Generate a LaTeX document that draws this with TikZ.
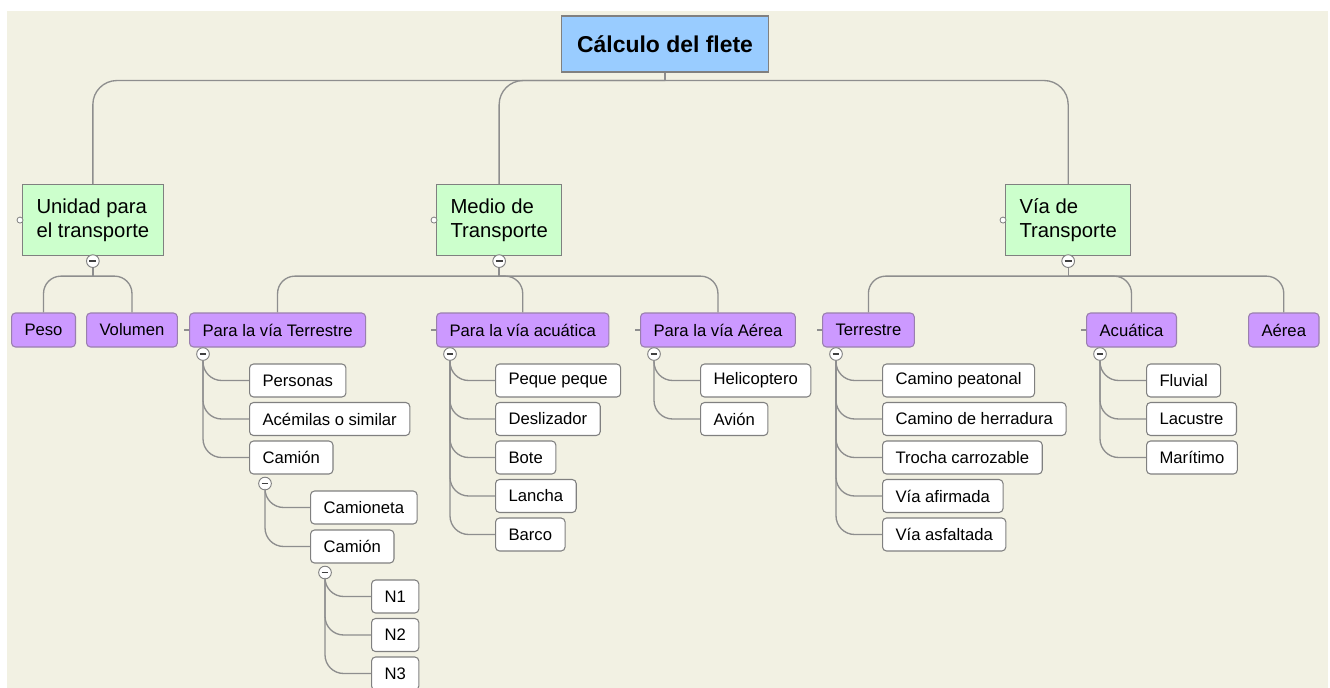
\documentclass[tikz,border=0pt]{standalone}
\usepackage{fontspec}
\setmainfont{Liberation Sans}
\usetikzlibrary{calc}

\definecolor{cream}{HTML}{F2F1E3}
\definecolor{rootblue}{HTML}{99CCFF}
\definecolor{topicgreen}{HTML}{CCFFCC}
\definecolor{subpurple}{HTML}{CC99FF}
\definecolor{subedge}{HTML}{9A7FAE}
\definecolor{edgegray}{HTML}{8E8E8E}
\definecolor{boxgray}{HTML}{808080}
\definecolor{markgray}{HTML}{404040}

\begin{document}
\begin{tikzpicture}[x=0.75pt, y=-0.75pt,
    rootbox/.style={draw=boxgray, fill=rootblue, line width=0.8pt, minimum height=42pt,
        inner xsep=11.6pt, font=\fontsize{17.2}{20}\selectfont\bfseries},
    topicbox/.style={draw=boxgray, fill=topicgreen, line width=0.8pt, minimum height=53.3pt,
        inner xsep=10.5pt, align=left, anchor=north west, font=\fontsize{15.2}{17.6}\selectfont},
    subbox/.style={draw=subedge, fill=subpurple, line width=0.8pt, rounded corners=3pt,
        minimum height=25.5pt, inner xsep=9.75pt, anchor=west, font=\fontsize{12.5}{15}\selectfont},
    leafbox/.style={draw=boxgray, fill=white, line width=0.8pt, rounded corners=3pt,
        minimum height=24.75pt, inner xsep=9.75pt, anchor=west, font=\fontsize{12.5}{15}\selectfont},
    conn/.style={draw=edgegray, line width=1pt},
    foldmark/.style={circle, draw=boxgray, fill=white, line width=0.7pt, minimum size=9.5pt, inner sep=0pt,
        path picture={\draw[markgray, line width=1.3pt]
            ([xshift=-2.6pt]path picture bounding box.center) -- ([xshift=2.6pt]path picture bounding box.center);}},
    knob/.style={circle, draw=boxgray, fill=white, line width=0.6pt, minimum size=4.5pt, inner sep=0pt}
]
% Canvas
\useasboundingbox (0,0) rectangle (1330,688);
\fill[white] (0,0) rectangle (1330,688);
\fill[cream] (7,11) rectangle (1328,688);

% Root
\node[rootbox] (flete) at (665,44) {Cálculo del flete};

% Main topics
\node[topicbox] (unidad) at (22,184) {Unidad para\\el transporte};
\node[topicbox] (medio) at (436,184) {Medio de\\Transporte};
\node[topicbox] (via) at (1005,184) {Vía de\\Transporte};

\coordinate (bus0) at ($(flete.south)+(0,8)$);
\draw[conn] (flete.south) -- (bus0);
\foreach \t in {unidad, medio, via} {
    \draw[conn, rounded corners=18pt] (bus0) -| (\t.north);
    \node[knob] (k\t) at ($(\t.west)+(-2,0)$) {};
    \node[foldmark] (f\t) at ($(\t.south)+(0,5)$) {};
    \coordinate (b\t) at ($(\t.south)+(0,20)$);
    \draw[conn] (f\t.south) -- (b\t);
}

% Subtopics
\node[subbox] (peso) at (11,330) {Peso};
\node[subbox] (volumen) at (86,330) {Volumen};
\node[subbox] (mterr) at (189,330) {Para la vía Terrestre};
\node[subbox] (macua) at (436,330) {Para la vía acuática};
\node[subbox] (maer) at (640,330) {Para la vía Aérea};
\node[subbox] (vterr) at (822,330) {Terrestre};
\node[subbox] (vacua) at (1086,330) {Acuática};
\node[subbox] (vaer) at (1248,330) {Aérea};

\foreach \p/\c in {unidad/peso, unidad/volumen, medio/mterr, medio/macua, medio/maer,
                   via/vterr, via/vacua, via/vaer}
    \draw[conn, rounded corners=13pt] (b\p) -| (\c.north);

% Folds and stubs of the subtopics
\foreach \s in {mterr, macua, maer, vterr, vacua} {
    \draw[conn] (\s.west) -- ++(-5,0);
    \node[foldmark] (f\s) at ($(\s.south west)+(14,6.5)$) {};
}

% Para la via Terrestre
\foreach \n/\t [count=\i] in {pers/Personas, acem/Acémilas o similar, cam/Camión} {
    \node[leafbox] (\n) at (249,{380.5+38.5*(\i-1)}) {\t};
    \draw[conn, rounded corners=14pt] (fmterr.south) |- (\n.west);
}
\node[foldmark] (fcam) at ($(cam.south west)+(16,9)$) {};
\foreach \n/\t [count=\i] in {camta/Camioneta, camb/Camión} {
    \node[leafbox] (\n) at (310,{507.5+39*(\i-1)}) {\t};
    \draw[conn, rounded corners=14pt] (fcam.south) |- (\n.west);
}
\node[foldmark] (fcamb) at ($(camb.south west)+(15,9)$) {};
\foreach \n/\t [count=\i] in {na/N1, nb/N2, nc/N3} {
    \node[leafbox] (\n) at (371,{596.5+38.5*(\i-1)}) {\t};
    \draw[conn, rounded corners=14pt] (fcamb.south) |- (\n.west);
}

% Para la via acuatica
\foreach \n/\t [count=\i] in {peque/Peque peque, desl/Deslizador, bote/Bote, lancha/Lancha, barco/Barco} {
    \node[leafbox] (\n) at (495,{380.5+38.5*(\i-1)}) {\t};
    \draw[conn, rounded corners=14pt] (fmacua.south) |- (\n.west);
}

% Para la via Aerea
\foreach \n/\t [count=\i] in {heli/Helicoptero, avion/Avión} {
    \node[leafbox] (\n) at (700,{380.5+38.5*(\i-1)}) {\t};
    \draw[conn, rounded corners=14pt] (fmaer.south) |- (\n.west);
}

% Via terrestre
\foreach \n/\t [count=\i] in {peat/Camino peatonal, herr/Camino de herradura, troch/Trocha carrozable,
                              afir/Vía afirmada, asfal/Vía asfaltada} {
    \node[leafbox] (\n) at (882,{380.5+38.5*(\i-1)}) {\t};
    \draw[conn, rounded corners=14pt] (fvterr.south) |- (\n.west);
}

% Via acuatica
\foreach \n/\t [count=\i] in {fluv/Fluvial, lacus/Lacustre, marit/Marítimo} {
    \node[leafbox] (\n) at (1146,{380.5+38.5*(\i-1)}) {\t};
    \draw[conn, rounded corners=14pt] (fvacua.south) |- (\n.west);
}
\end{tikzpicture}
\end{document}
